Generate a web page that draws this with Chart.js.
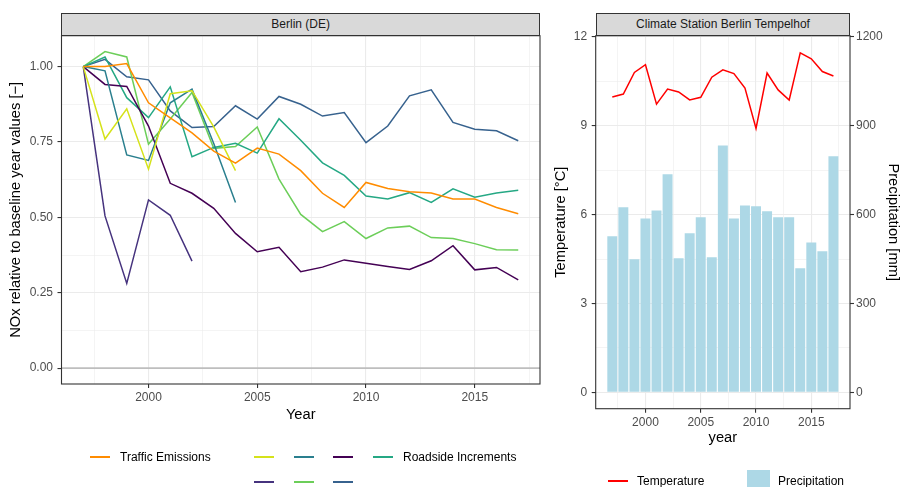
<!DOCTYPE html>
<html>
<head>
<meta charset="utf-8">
<script src="https://cdn.jsdelivr.net/npm/chart.js@4.4.1/dist/chart.umd.min.js"></script>
<style>
  body { margin: 0; width: 900px; height: 487px; overflow: hidden; background: #fff; position: relative;
         font-family: "Liberation Sans", Arial, sans-serif; }
  canvas { position: absolute; top: 0; }
  .strip { position: absolute; top: 12.7px; height: 23px; box-sizing: border-box; border: 1.1px solid #333;
           background: #d9d9d9; color: #1a1a1a; font-size: 12px; text-align: center; line-height: 21px; }
  .key { position: absolute; height: 2px; width: 20px; }
  .lbl { position: absolute; font-size: 12px; color: #000; line-height: 14px; }
</style>
</head>
<body>
<div class="strip" style="left:61.3px;width:478.7px">Berlin (DE)</div>
<div class="strip" style="left:595.7px;width:254.6px">Climate Station Berlin Tempelhof</div>
<canvas id="nox" width="548" height="428" style="left:0"></canvas>
<canvas id="climate" width="360" height="451" style="left:540px"></canvas>
<div id="legend"></div>
<script>
    "use strict";
    // years of the record
    const years = [1997,1998,1999,2000,2001,2002,2003,2004,2005,2006,2007,2008,2009,2010,2011,2012,2013,2014,2015,2016,2017];

    // NOx relative to baseline year (1997 = 1)
    const trafficEmissions   = [1.00,1.00,1.01,0.88,0.83,0.78,0.72,0.68,0.73,0.71,0.655,0.58,0.533,0.616,0.596,0.585,0.581,0.561,0.561,0.533,0.512];
    const roadsideIncrements = [1.00,1.032,0.897,0.831,0.933,0.701,0.732,0.746,0.713,0.827,0.756,0.681,0.639,0.571,0.561,0.582,0.550,0.595,0.567,0.581,0.590];
    const stationYellow      = [1.00,0.76,0.86,0.66,0.91,0.92,0.80,0.655];          // 1997-2004
    const stationTeal        = [1.00,0.986,0.707,0.689,0.88,0.925,0.745,0.549];      // 1997-2004
    const stationDarkPurple  = [1.00,0.941,0.934,0.803,0.613,0.580,0.530,0.447,0.386,0.401,0.320,0.335,0.359,0.348,0.337,0.327,0.356,0.406,0.326,0.334,0.293];
    const stationPurple      = [1.00,0.505,0.281,0.558,0.507,0.355];                 // 1997-2002
    const stationLightGreen  = [1.00,1.050,1.032,0.743,0.826,0.914,0.729,0.735,0.800,0.627,0.510,0.453,0.486,0.430,0.465,0.471,0.433,0.430,0.413,0.393,0.392];
    const stationBlue        = [1.00,1.024,0.966,0.956,0.853,0.798,0.801,0.870,0.826,0.901,0.875,0.836,0.848,0.748,0.803,0.903,0.923,0.815,0.792,0.787,0.754];

    // Tempelhof climate station
    const temperature   = [9.97,10.07,10.80,11.06,9.73,10.24,10.14,9.87,9.96,10.64,10.89,10.76,10.27,8.91,10.78,10.21,9.87,11.46,11.26,10.83,10.68];
    const precipitation = [527,625,449,587,614,736,453,537,591,456,833,587,631,628,611,591,591,419,506,476,797];

    const noxTicks  = [0,0.125,0.25,0.375,0.5,0.625,0.75,0.875,1];
    const yearTicks = [1997.5,2000,2002.5,2005,2007.5,2010,2012.5,2015,2017.5];
    const tempTicks = [0,1.5,3,4.5,6,7.5,9,10.5,12];
    const precTicks = [0,300,600,900,1200];

    // series list (label, values, colour)
    const noxSeries = [
        ["Traffic Emissions", trafficEmissions, "#ff8c00"],
        ["", stationYellow, "#d5e21a"],
        ["", stationTeal, "#2a7f8e"],
        ["", stationDarkPurple, "#440154"],
        ["Roadside Increments", roadsideIncrements, "#25a884"],
        ["", stationPurple, "#46337e"],
        ["", stationLightGreen, "#6cce59"],
        ["", stationBlue, "#37628e"]
    ];

    Chart.defaults.font.family = '"Liberation Sans", Arial, sans-serif';
    Chart.defaults.font.size = 12;
    Chart.defaults.color = "#4d4d4d";

    const gridGrey = "#ebebeb";
    const isMajor = (list) => (ctx) => ctx.tick && list.includes(ctx.tick.value);

    // panel border + zero line
    const panelFrame = {
        id: "panelFrame",
        beforeDatasetsDraw(chart, args, opts) {
            if (!opts.zero) return;
            const a = chart.chartArea, y = chart.scales.y.getPixelForValue(0);
            const c = chart.ctx;
            c.save();
            c.strokeStyle = "#bebebe";
            c.lineWidth = 1.6;
            c.beginPath(); c.moveTo(a.left, y); c.lineTo(a.right, y); c.stroke();
            c.restore();
        },
        afterDraw(chart) {
            const a = chart.chartArea, c = chart.ctx;
            c.save();
            c.strokeStyle = "#333";
            c.lineWidth = 1.1;
            c.strokeRect(a.left, a.top, a.right - a.left, a.bottom - a.top);
            c.restore();
        }
    };

    function xAxis(min, max, height, pad) {
        const major = isMajor([2000,2005,2010,2015]);
        return {
            type: "linear", min: min, max: max, offset: false,
            afterBuildTicks: (s) => { s.ticks = yearTicks.map(v => ({value: v})); },
            afterFit: (s) => { s.height = height; },
            ticks: { autoSkip: false, maxRotation: 0, padding: 2.5, color: "#4d4d4d",
                     callback: (v) => (v % 5 === 0 ? String(v) : "") },
            grid: { offset: false, color: gridGrey, tickLength: 4,
                    lineWidth: (ctx) => major(ctx) ? 1.1 : 0.55,
                    tickColor: (ctx) => major(ctx) ? "#333" : "rgba(0,0,0,0)", tickWidth: 1.1 },
            border: { display: false },
            title: { display: true, text: "", color: "#000", font: { size: 14.7, lineHeight: 1 },
                     padding: { top: 0, bottom: pad } }
        };
    }

    // NOx panel
    const noxX = xAxis(1996, 2018, 44, 5.5);
    noxX.title.text = "Year";
    const noxMajor = isMajor([0,0.25,0.5,0.75,1]);

    new Chart(document.getElementById("nox"), {
        type: "line",
        data: {
            datasets: noxSeries.map(([label, vals, col]) => ({
                label: label,
                data: vals.map((v, i) => ({x: years[i], y: v})),
                borderColor: col,
                borderWidth: 1.5,
                pointRadius: 0,
                fill: false,
                tension: 0
            }))
        },
        options: {
            responsive: false, animation: false,
            layout: { padding: { top: 35.7, right: 8, left: 0, bottom: 0 } },
            plugins: { legend: { display: false }, tooltip: { enabled: false }, panelFrame: { zero: true } },
            scales: {
                x: noxX,
                y: {
                    type: "linear", min: -0.0525, max: 1.1025,
                    afterBuildTicks: (s) => { s.ticks = noxTicks.map(v => ({value: v})); },
                    afterFit: (s) => { s.width = 61.5; },
                    ticks: { autoSkip: false, padding: 4.5, color: "#4d4d4d",
                             callback: (v) => ([0,0.25,0.5,0.75,1].includes(v) ? v.toFixed(2) : "") },
                    grid: { color: gridGrey, tickLength: 4,
                            lineWidth: (ctx) => noxMajor(ctx) ? 1.1 : 0.55,
                            tickColor: (ctx) => noxMajor(ctx) ? "#333" : "rgba(0,0,0,0)", tickWidth: 1.1 },
                    border: { display: false },
                    title: { display: true, text: "NOx relative to baseline year values [\u2212]", color: "#000",
                             font: { size: 14.7, lineHeight: 1 }, padding: { top: 9, bottom: 0 } }
                }
            }
        },
        plugins: [panelFrame]
    });

    // climate panel
    const climX = xAxis(1995.5, 2018.5, 42.3, 5.5);
    climX.title.text = "year";
    const tempMajor = isMajor([0,3,6,9,12]);

    new Chart(document.getElementById("climate"), {
        type: "bar",
        data: {
            datasets: [
                {
                    type: "line",
                    label: "Temperature",
                    data: temperature.map((v, i) => ({x: years[i], y: v})),
                    yAxisID: "y",
                    borderColor: "#ff0000",
                    borderWidth: 1.5,
                    pointRadius: 0,
                    tension: 0,
                    order: 0
                },
                {
                    type: "bar",
                    label: "Precipitation",
                    data: precipitation.map((v, i) => ({x: years[i], y: v})),
                    yAxisID: "y2",
                    backgroundColor: "#add8e6",
                    categoryPercentage: 1,
                    barPercentage: 0.9,
                    order: 1
                }
            ]
        },
        options: {
            responsive: false, animation: false,
            layout: { padding: { top: 35.7, right: 0, left: 0, bottom: 0 } },
            plugins: { legend: { display: false }, tooltip: { enabled: false }, panelFrame: { zero: false } },
            scales: {
                x: climX,
                y: {
                    type: "linear", position: "left", min: -0.554, max: 12.04,
                    afterBuildTicks: (s) => { s.ticks = tempTicks.map(v => ({value: v})); },
                    afterFit: (s) => { s.width = 55.7; },
                    ticks: { autoSkip: false, padding: 4.5, color: "#4d4d4d",
                             callback: (v) => (v % 3 === 0 ? String(v) : "") },
                    grid: { color: gridGrey, tickLength: 4,
                            lineWidth: (ctx) => tempMajor(ctx) ? 1.1 : 0.55,
                            tickColor: (ctx) => tempMajor(ctx) ? "#333" : "rgba(0,0,0,0)", tickWidth: 1.1 },
                    border: { display: false },
                    title: { display: true, text: "Temperature [\u00b0C]", color: "#000",
                             font: { size: 14.7, lineHeight: 1 }, padding: { top: 14, bottom: 0 } }
                },
                y2: {
                    type: "linear", position: "right", min: -55.4, max: 1204,
                    afterBuildTicks: (s) => { s.ticks = precTicks.map(v => ({value: v})); },
                    afterFit: (s) => { s.width = 50; },
                    ticks: { autoSkip: false, padding: 2, color: "#4d4d4d", callback: (v) => String(v) },
                    grid: { drawOnChartArea: false, tickLength: 4, tickColor: "#333", tickWidth: 1.1 },
                    border: { display: false },
                    title: { display: true, text: "Precipitation [mm]", color: "#000",
                             font: { size: 14.7, lineHeight: 1 }, padding: { top: 0, bottom: 0 } }
                }
            }
        },
        plugins: [panelFrame]
    });

    // legends (ggplot-style, below each panel)
    const legend = document.getElementById("legend");
    const noxSlots = [[90,456],[254,456],[294,456],[333,456],[373,456],[254,481],[294,481],[333,481]];
    noxSeries.forEach(([label, vals, col], i) => {
        const [x, y] = noxSlots[i];
        const k = document.createElement("div");
        k.className = "key";
        k.style.cssText = `left:${x}px;top:${y}px;background:${col}`;
        legend.appendChild(k);
        if (label) {
            const t = document.createElement("div");
            t.className = "lbl";
            t.textContent = label;
            t.style.cssText = `left:${x + 30}px;top:${y - 6}px`;
            legend.appendChild(t);
        }
    });
    legend.insertAdjacentHTML("beforeend",
        '<div class="key" style="left:608px;top:480px;background:#ff0000"></div>' +
        '<div class="lbl" style="left:637px;top:474px">Temperature</div>' +
        '<div style="position:absolute;left:747px;top:470px;width:23px;height:23px;background:#add8e6"></div>' +
        '<div class="lbl" style="left:778px;top:474px">Precipitation</div>');
</script>
</body>
</html>
